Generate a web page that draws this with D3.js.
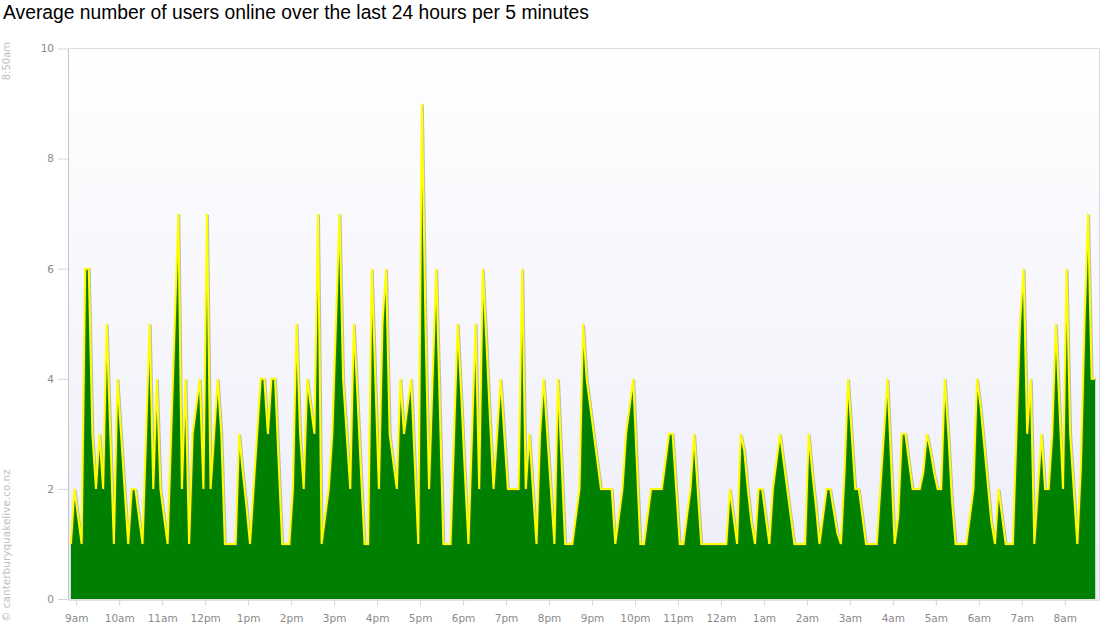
<!DOCTYPE html>
<html>
<head>
<meta charset="utf-8">
<title>Users online</title>
<script src="https://cdn.jsdelivr.net/npm/d3@7"></script>
<style>
  body { margin: 0; background: #fff; }
  svg { display: block; font-family: "Liberation Sans", Arial, sans-serif; }
</style>
</head>
<body>
<svg id="chart" width="1100" height="640"></svg>
<script>
// one value per 5 minutes
let firstSample = new Date(2012, 0, 9, 8, 52, 30);
let axisStart = new Date(2012, 0, 9, 8, 48, 30);
let stepMinutes = 5;
let usersOnline = [
  1, 2, 1.5, 1, 6, 6, 3, 2, 3, 2, 5, 3,
  1, 4, 3, 2, 1, 2, 2, 1.5, 1, 3, 5, 2,
  4, 2, 1.5, 1, 3, 5, 7, 2, 4, 1, 3, 3.5,
  4, 2, 7, 2, 3, 4, 3, 1, 1, 1, 1, 3,
  2.3, 1.7, 1, 2, 3, 4, 4, 3, 4, 4, 2.5, 1,
  1, 1, 2, 5, 3, 2, 4, 3.5, 3, 7, 1, 1.5,
  2, 3, 5, 7, 4, 3, 2, 5, 3.7, 2.3, 1, 1,
  6, 4, 2, 5, 6, 3, 2.5, 2, 4, 3, 3.5, 4,
  2.5, 1, 9, 5, 2, 4, 6, 3.5, 1, 1, 1, 3,
  5, 3.7, 2.3, 1, 3, 5, 2, 6, 4.7, 3.3, 2, 3,
  4, 3, 2, 2, 2, 2, 6, 2, 3, 2, 1, 3,
  4, 3, 2, 1, 4, 2.5, 1, 1, 1, 1.5, 2, 5,
  4, 3.5, 3, 2.5, 2, 2, 2, 2, 1, 1.5, 2, 3,
  3.5, 4, 2.5, 1, 1, 1.5, 2, 2, 2, 2, 2.5, 3,
  3, 2, 1, 1, 1.5, 2, 3, 2, 1, 1, 1, 1,
  1, 1, 1, 1, 2, 1.5, 1, 3, 2.7, 2, 1.4, 1,
  2, 2, 1.5, 1, 2, 2.5, 3, 2.5, 2, 1.5, 1, 1,
  1, 1, 3, 2.3, 1.7, 1, 1.5, 2, 2, 1.6, 1.2, 1,
  2.3, 4, 3, 2, 2, 1.5, 1, 1, 1, 1, 2, 3,
  4, 2.5, 1, 1.5, 3, 3, 2.5, 2, 2, 2, 2.3, 3,
  2.7, 2.3, 2, 2, 4, 3, 1.8, 1, 1, 1, 1, 1.5,
  2, 4, 3.5, 2.8, 2.1, 1.4, 1, 2, 1.5, 1, 1, 1,
  3, 5, 6, 3, 4, 1, 2, 3, 2, 2, 3, 5,
  3.5, 2, 6, 3, 2, 1, 2.4, 5, 7, 4, 4
];
let yTicks = [0, 2, 4, 6, 8, 10];
let chartTitle = "Average number of users online over the last 24 hours per 5 minutes";
let stampText = "8:50am";
let creditText = "\u00a9 canterburyquakelive.co.nz";

let plotLeft = 68, plotRight = 1099.5, plotTop = 48.5, plotBottom = 599;

let data = usersOnline.map((v, i) => ({
        time: d3.timeMinute.offset(firstSample, i * stepMinutes),
        users: v
}));

let x = d3.scaleTime()
        .domain([axisStart, d3.timeHour.offset(axisStart, 24)])
        .range([plotLeft, plotRight]);

let y = d3.scaleLinear()
        .domain([0, 10])
        .range([plotBottom, plotTop]);

let svg = d3.select("#chart");

// plot background
let grad = svg.append("defs").append("linearGradient")
        .attr("id", "bg")
        .attr("x1", 0).attr("y1", 0).attr("x2", 0).attr("y2", 1);
grad.append("stop").attr("offset", "0%").attr("stop-color", "#ffffff");
grad.append("stop").attr("offset", "100%").attr("stop-color", "#ededf9");

svg.append("rect")
        .attr("x", plotLeft)
        .attr("y", plotTop)
        .attr("width", plotRight - plotLeft)
        .attr("height", plotBottom - plotTop)
        .attr("fill", "url(#bg)");

// frame top and right
svg.append("path")
        .attr("d", `M${plotLeft},${plotTop}H${plotRight}V${plotBottom}`)
        .attr("fill", "none")
        .attr("stroke", "#dcdce4")
        .attr("stroke-width", 1);

let area = d3.area()
        .x(d => x(d.time))
        .y0(y(0))
        .y1(d => y(d.users));

let line = d3.line()
        .x(d => x(d.time))
        .y(d => y(d.users));

svg.append("path")
        .datum(data)
        .attr("d", area)
        .attr("fill", "#008000");

// soft shadow under the yellow line
svg.append("path")
        .datum(data)
        .attr("d", line)
        .attr("transform", "translate(1,1)")
        .attr("fill", "none")
        .attr("stroke", "#707070")
        .attr("stroke-opacity", 0.45)
        .attr("stroke-width", 2);

svg.append("path")
        .datum(data)
        .attr("d", line)
        .attr("fill", "none")
        .attr("stroke", "#ffff00")
        .attr("stroke-width", 2);

// axes
let hourFormat = d3.timeFormat("%-I%p");

let xAxis = svg.append("g")
        .attr("transform", `translate(0,${plotBottom + 0.5})`)
        .call(d3.axisBottom(x)
                .ticks(d3.timeHour.every(1))
                .tickFormat(d => hourFormat(d).toLowerCase())
                .tickSize(6)
                .tickSizeOuter(0)
                .tickPadding(9));

let yAxis = svg.append("g")
        .attr("transform", `translate(${plotLeft},0)`)
        .call(d3.axisLeft(y)
                .tickValues(yTicks)
                .tickSize(10)
                .tickSizeOuter(0)
                .tickPadding(4));

[xAxis, yAxis].forEach(g => {
        g.select(".domain").attr("stroke", "#c4c4cc");
        g.selectAll(".tick line").attr("stroke", "#d4d4dc");
        g.selectAll(".tick text")
                .attr("fill", "#8a8a8a")
                .style("font-size", "10.5px")
                .style("font-family", "'DejaVu Sans', Verdana, sans-serif");
});

// title and side notes
svg.append("text")
        .attr("x", 3)
        .attr("y", 19)
        .attr("fill", "#000")
        .style("font-size", "19.3px")
        .text(chartTitle);

svg.append("text")
        .attr("transform", "translate(10,42) rotate(-90)")
        .attr("text-anchor", "end")
        .attr("fill", "#c0c0c0")
        .style("font-size", "10px")
        .style("font-family", "'DejaVu Sans', Verdana, sans-serif")
        .text(stampText);

svg.append("text")
        .attr("transform", "translate(10,622) rotate(-90)")
        .attr("text-anchor", "start")
        .attr("fill", "#c0c0c0")
        .style("font-size", "10.5px")
        .style("font-family", "'DejaVu Sans', Verdana, sans-serif")
        .text(creditText);
</script>
</body>
</html>
